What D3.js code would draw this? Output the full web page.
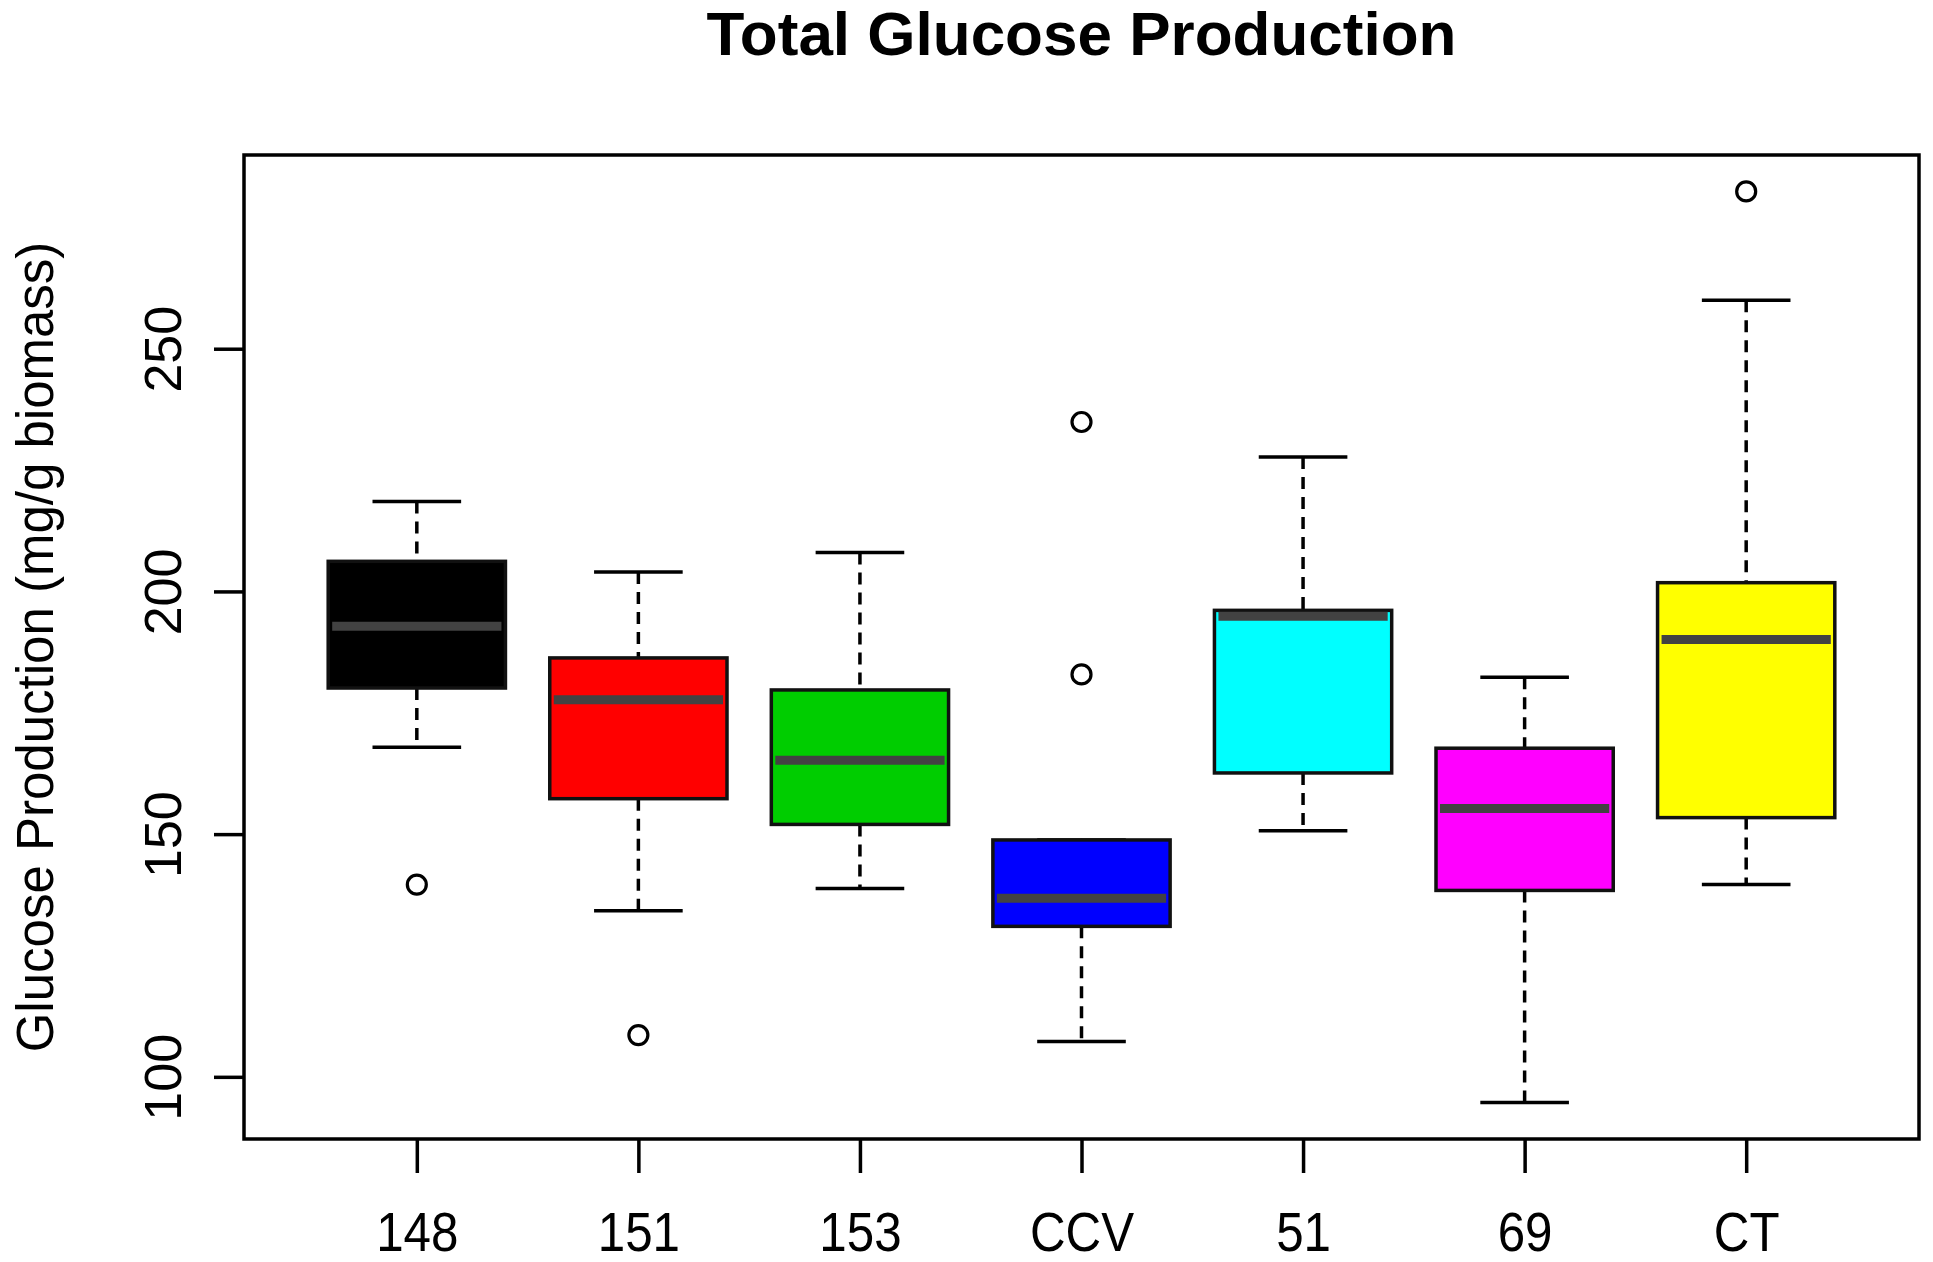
<!DOCTYPE html>
<html>
  <head>
    <meta charset="utf-8" />
    <script src="https://d3js.org/d3.v7.min.js"></script>
    <title>Total Glucose Production</title>
    <style>
        body { margin: 0; background: #fff; }
        text { font-family: "Liberation Sans", Arial, sans-serif; fill: #000; }
    </style>
  </head>
  <body>

    <svg id="chart" width="1933" height="1262"></svg>

    <script>
    // box summaries
    var groups = ["148", "151", "153", "CCV", "51", "69", "CT"];
    var lowerWhisker = [167.9, 134.2, 138.8, 107.3, 150.7, 94.7, 139.6];
    var q1 = [180.1, 157.3, 152.0, 131.0, 162.6, 138.4, 153.4];
    var median = [192.8, 177.7, 165.2, 136.8, 194.9, 155.3, 190.1];
    var q3 = [206.2, 186.3, 179.7, 148.8, 196.1, 167.7, 201.8];
    var upperWhisker = [218.5, 204.0, 208.0, 148.8, 227.7, 182.3, 260.0];
    var outliers = [[139.6], [108.6], [], [234.9, 182.9], [], [], [282.4]];
    var boxColors = ["#000000", "#ff0000", "#00cd00", "#0000ff", "#00ffff", "#ff00ff", "#ffff00"];
    var yTicks = [100, 150, 200, 250];

    // plot frame (window.top is read-only, so no "top" here)
    var plotL = 244, plotR = 1919, plotT = 155, plotB = 1139;
    var lw = 3.5;
    var svg = d3.select("#chart");

    var data = groups.map(function(g, i) {
        return {
            name: g, i: i + 1, lw: lowerWhisker[i], q1: q1[i], med: median[i],
            q3: q3[i], uw: upperWhisker[i], out: outliers[i], color: boxColors[i]
        };
    });

    // R style: 4% padding round the data range
    var allVals = [];
    data.forEach(function(d) { allVals.push(d.lw, d.uw); d.out.forEach(function(o){ allVals.push(o); }); });
    var ext = d3.extent(allVals);
    var pad = (ext[1] - ext[0]) * 0.04;

    var x = d3.scaleLinear().domain([0.5 - 0.28, groups.length + 0.5 + 0.28]).range([plotL, plotR]);
    var y = d3.scaleLinear().domain([ext[0] - pad, ext[1] + pad]).range([plotB, plotT]);

    var halfBox = (x(1.4) - x(1));
    var halfCap = (x(1.2) - x(1));

    var g = svg.selectAll(".box").data(data).enter().append("g").attr("class", "box");

    // dashed whiskers
    g.append("line")
        .attr("x1", function(d){ return x(d.i); }).attr("x2", function(d){ return x(d.i); })
        .attr("y1", function(d){ return y(d.uw); }).attr("y2", function(d){ return y(d.q3); })
        .attr("stroke", "#000").attr("stroke-width", lw).attr("stroke-dasharray", "12,8");
    g.append("line")
        .attr("x1", function(d){ return x(d.i); }).attr("x2", function(d){ return x(d.i); })
        .attr("y1", function(d){ return y(d.q1); }).attr("y2", function(d){ return y(d.lw); })
        .attr("stroke", "#000").attr("stroke-width", lw).attr("stroke-dasharray", "12,8");

    // caps
    g.append("line")
        .attr("x1", function(d){ return x(d.i) - halfCap; }).attr("x2", function(d){ return x(d.i) + halfCap; })
        .attr("y1", function(d){ return y(d.uw); }).attr("y2", function(d){ return y(d.uw); })
        .attr("stroke", "#000").attr("stroke-width", lw);
    g.append("line")
        .attr("x1", function(d){ return x(d.i) - halfCap; }).attr("x2", function(d){ return x(d.i) + halfCap; })
        .attr("y1", function(d){ return y(d.lw); }).attr("y2", function(d){ return y(d.lw); })
        .attr("stroke", "#000").attr("stroke-width", lw);

    // boxes
    g.append("rect")
        .attr("x", function(d){ return x(d.i) - halfBox; })
        .attr("width", 2 * halfBox)
        .attr("y", function(d){ return y(d.q3); })
        .attr("height", function(d){ return y(d.q1) - y(d.q3); })
        .attr("fill", function(d){ return d.color; })
        .attr("stroke", "#111").attr("stroke-width", lw);

    // medians
    g.append("line")
        .attr("x1", function(d){ return x(d.i) - halfBox + 4; }).attr("x2", function(d){ return x(d.i) + halfBox - 4; })
        .attr("y1", function(d){ return y(d.med); }).attr("y2", function(d){ return y(d.med); })
        .attr("stroke", "#424242").attr("stroke-width", 9);

    // outliers
    g.selectAll("circle").data(function(d){ return d.out.map(function(o){ return {i: d.i, v: o}; }); })
        .enter().append("circle")
        .attr("cx", function(d){ return x(d.i); })
        .attr("cy", function(d){ return y(d.v); })
        .attr("r", 9.5)
        .attr("fill", "none").attr("stroke", "#000").attr("stroke-width", 3.2);

    // frame
    svg.append("rect")
        .attr("x", plotL).attr("y", plotT)
        .attr("width", plotR - plotL).attr("height", plotB - plotT)
        .attr("fill", "none").attr("stroke", "#000").attr("stroke-width", lw);

    // y axis
    var yAxis = svg.append("g").attr("transform", "translate(" + plotL + ",0)")
        .call(d3.axisLeft(y).tickValues(yTicks).tickSize(30).tickFormat(d3.format("d")));
    yAxis.select(".domain").remove();
    yAxis.selectAll(".tick line").attr("stroke", "#000").attr("stroke-width", lw);
    yAxis.selectAll(".tick text")
        .attr("transform", "rotate(-90)")
        .attr("x", 0).attr("y", -63).attr("dy", null)
        .attr("text-anchor", "middle")
        .style("font-size", "52px").style("font-family", "'Liberation Sans', Arial, sans-serif");

    // x axis
    var xAxis = svg.append("g").attr("transform", "translate(0," + plotB + ")")
        .call(d3.axisBottom(x).tickValues(data.map(function(d){ return d.i; }))
            .tickSize(34).tickFormat(function(v){ return groups[v - 1]; }));
    xAxis.select(".domain").remove();
    xAxis.selectAll(".tick line").attr("stroke", "#000").attr("stroke-width", lw);
    xAxis.selectAll(".tick text")
        .attr("y", 112).attr("dy", null)
        .attr("transform", "scale(0.88,1)")
        .style("font-size", "56px").style("font-family", "'Liberation Sans', Arial, sans-serif");

    // title and label
    svg.append("text")
        .attr("x", (plotL + plotR) / 2).attr("y", 55)
        .attr("text-anchor", "middle")
        .style("font-size", "62px").style("font-weight", "bold")
        .text("Total Glucose Production");

    svg.append("text")
        .attr("transform", "translate(53," + ((plotT + plotB) / 2) + ") rotate(-90)")
        .attr("text-anchor", "middle")
        .style("font-size", "51px")
        .text("Glucose Production (mg/g biomass)");
    </script>

  </body>
</html>
